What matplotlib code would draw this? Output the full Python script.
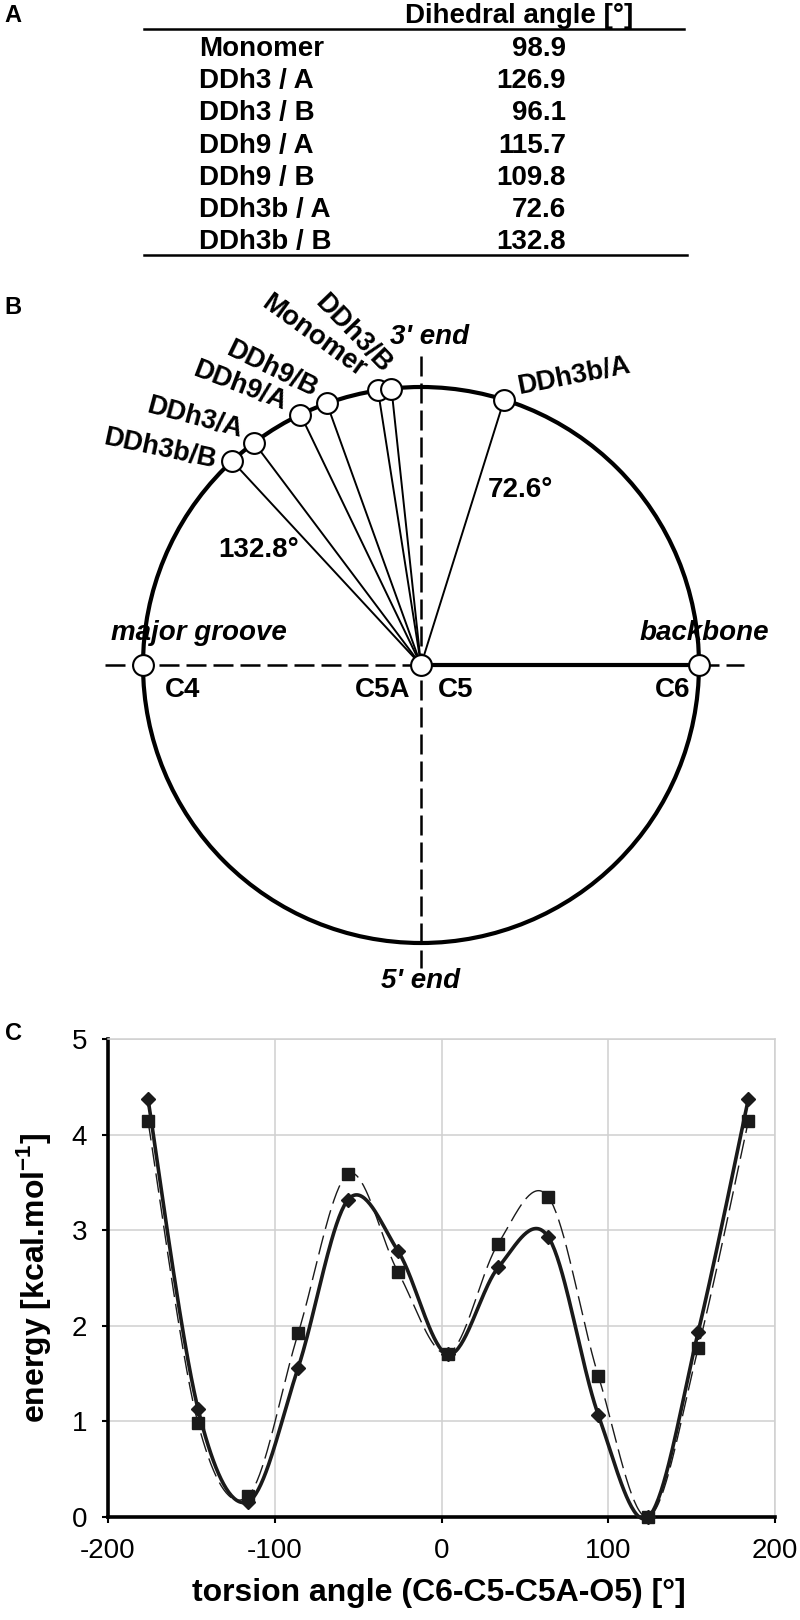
import numpy as np
import matplotlib
matplotlib.use('Agg')
import matplotlib.pyplot as plt
from matplotlib.patches import Circle
from matplotlib import font_manager

plt.rcParams['font.family'] = ['Liberation Sans', 'DejaVu Sans']
plt.rcParams['axes.unicode_minus'] = False
plt.rcParams['mathtext.fontset'] = 'custom'
plt.rcParams['mathtext.rm'] = 'Liberation Sans'
plt.rcParams['mathtext.bf'] = 'Liberation Sans:bold'

# narrow font for the chart tick labels if it is there
font_names = {f.name for f in font_manager.fontManager.ttflist}
if 'Liberation Sans Narrow' in font_names:
    tick_family, tick_size = 'Liberation Sans Narrow', 23
else:
    tick_family, tick_size = 'Liberation Sans', 20

# Panel A / B data
structures = ['Monomer', 'DDh3 / A', 'DDh3 / B', 'DDh9 / A', 'DDh9 / B', 'DDh3b / A', 'DDh3b / B']
dihedral = [98.9, 126.9, 96.1, 115.7, 109.8, 72.6, 132.8]
circle_labels = ['Monomer', 'DDh3/A', 'DDh3/B', 'DDh9/A', 'DDh9/B', 'DDh3b/A', 'DDh3b/B']

# Panel C data
torsion = [-176, -146, -116, -86, -56, -26, 4, 34, 64, 94, 124, 154, 184]
energy_diamond = [4.37, 1.13, 0.16, 1.56, 3.32, 2.78, 1.70, 2.61, 2.93, 1.07, 0.0, 1.94, 4.37]
energy_square = [4.14, 0.98, 0.22, 1.92, 3.59, 2.56, 1.71, 2.86, 3.35, 1.48, 0.0, 1.77, 4.14]

# label styling for the circle (rotation deg, offset in points, alignment)
label_rot = [-36, -15, -46, -21, -26, 11, -12]
label_off = [(-11, 13), (-9, 9), (-3, 14), (-11, 8), (-8, 9), (10, 9), (-12, 0)]
label_ha = ['right', 'right', 'right', 'right', 'right', 'left', 'right']

W, H = 800, 1620
fig = plt.figure(figsize=(W / 100, H / 100), dpi=100)
fig.patch.set_facecolor('white')

# ---------------- Panel A: table ----------------
axA = fig.add_axes([0, 1 - 270 / H, 1, 270 / H])
axA.set_xlim(0, W)
axA.set_ylim(270, 0)
axA.axis('off')
axA.text(13, 16, 'A', fontsize=17, fontweight='bold', ha='center', va='center')
axA.text(519, 16, 'Dihedral angle [°]', fontsize=20, fontweight='bold', ha='center', va='center')
axA.plot([144, 684], [29, 29], color='k', lw=1.8)
axA.plot([144, 687], [255, 255], color='k', lw=1.8)
for i, (name, val) in enumerate(zip(structures, dihedral)):
    y = 49 + 32.2 * i
    axA.text(199, y, name, fontsize=20, fontweight='bold', ha='left', va='center')
    axA.text(566, y, f'{val:.1f}', fontsize=20, fontweight='bold', ha='right', va='center')

# ---------------- Panel B: circle ----------------
CX, CY, R = 421, 665, 278  # pixel layout of the circle
xl, xr, yb, yt = -1.2, 1.3, -1.2, 1.3
axB = fig.add_axes([(CX + xl * R) / W, 1 - (CY - yb * R) / H,
                    (xr - xl) * R / W, (yt - yb) * R / H])
axB.set_xlim(xl, xr)
axB.set_ylim(yb, yt)
axB.axis('off')

fig.text(13 / W, 1 - 308 / H, 'B', fontsize=17, fontweight='bold', ha='center', va='center')

axB.plot([-1.137, 1.162], [0, 0], color='k', lw=1.8, ls=(0, (8, 2.8)), zorder=1)
axB.plot([0, 0], [-1.09, 1.133], color='k', lw=1.8, ls=(0.8, (8, 2.8)), zorder=1)
axB.add_patch(Circle((0, 0), 1, fill=False, lw=3, color='k', zorder=2))
axB.plot([0, 1], [0, 0], color='k', lw=3, zorder=2)

ang = np.deg2rad(dihedral)
px = np.cos(ang)
py = np.sin(ang)
for x, y in zip(px, py):
    axB.plot([0, x], [0, y], color='k', lw=1.4, zorder=3)

mk = dict(marker='o', ms=15, mfc='white', mec='k', mew=1.5, ls='none', zorder=5)
axB.plot(px, py, **mk)
axB.plot([-1, 0, 1], [0, 0, 0], **mk)

for lab, x, y, rot, off, ha in zip(circle_labels, px, py, label_rot, label_off, label_ha):
    axB.annotate(lab, xy=(x, y), xytext=off, textcoords='offset points',
                 rotation=rot, rotation_mode='anchor', ha=ha, va='center',
                 fontsize=19.5, fontweight='bold', zorder=6)

it = dict(fontsize=20, fontweight='bold', style='italic', va='center')
axB.text(0.032, 1.18, "3' end", ha='center', **it)
axB.text(0.0, -1.135, "5' end", ha='center', **it)
axB.text(-0.80, 0.115, 'major groove', ha='center', **it)
axB.text(1.018, 0.115, 'backbone', ha='center', **it)

bd = dict(fontsize=20, fontweight='bold', va='center')
axB.text(-0.921, -0.09, 'C4', ha='left', **bd)
axB.text(-0.04, -0.09, 'C5A', ha='right', **bd)
axB.text(0.061, -0.09, 'C5', ha='left', **bd)
axB.text(0.968, -0.09, 'C6', ha='right', **bd)
axB.text(-0.583, 0.414, f'{dihedral[6]}°', ha='center', **bd)
axB.text(0.356, 0.63, f'{dihedral[5]}°', ha='center', **bd)

# ---------------- Panel C: energy profile ----------------
def excel_smooth(xs, ys, n=40):
    # Bezier smoothing through the points, the way spreadsheet "smoothed lines" look
    P = np.column_stack([xs, ys]).astype(float)
    pts = []
    for i in range(len(P) - 1):
        p0 = P[i - 1] if i > 0 else P[i]
        p1, p2 = P[i], P[i + 1]
        p3 = P[i + 2] if i + 2 < len(P) else P[i + 1]
        c1 = p1 + (p2 - p0) / 6
        c2 = p2 - (p3 - p1) / 6
        t = np.linspace(0, 1, n)[:, None]
        seg = (1 - t) ** 3 * p1 + 3 * (1 - t) ** 2 * t * c1 + 3 * (1 - t) * t ** 2 * c2 + t ** 3 * p2
        pts.append(seg if i == 0 else seg[1:])
    return np.vstack(pts)

axC = fig.add_axes([108 / W, 1 - 1517 / H, 667 / W, 478 / H])
fig.text(13 / W, 1 - 1033 / H, 'C', fontsize=17, fontweight='bold', ha='center', va='center')

ink = '#1a1a1a'
sq = excel_smooth(torsion, energy_square)
di = excel_smooth(torsion, energy_diamond)
axC.plot(sq[:, 0], sq[:, 1], color=ink, lw=1.0, ls=(0, (14, 5)), zorder=3, clip_on=False)
axC.plot(di[:, 0], di[:, 1], color=ink, lw=2.6, zorder=4, clip_on=False)
axC.plot(torsion, energy_square, 's', ms=8, color=ink, zorder=5, clip_on=False)
axC.plot(torsion, energy_diamond, 'D', ms=7.2, color=ink, zorder=6, clip_on=False)

axC.set_xlim(-200, 200)
axC.set_ylim(0, 5)
axC.set_xticks([-200, -100, 0, 100, 200])
axC.set_yticks([0, 1, 2, 3, 4, 5])
axC.grid(True, color='#d0d0d0', lw=1.1)
axC.set_axisbelow(True)
for s in ['top', 'right']:
    axC.spines[s].set_color('#d0d0d0')
    axC.spines[s].set_linewidth(1.1)
for s in ['left', 'bottom']:
    axC.spines[s].set_color('k')
    axC.spines[s].set_linewidth(2.6)
axC.tick_params(labelsize=tick_size, length=4, width=1.5, pad=11, direction='out')
for lab in axC.get_xticklabels() + axC.get_yticklabels():
    lab.set_family(tick_family)

axC.set_ylabel(r'energy [kcal.mol$^{\mathbf{-1}}$]', fontsize=23, fontweight='bold', va='center')
axC.yaxis.set_label_coords(-0.112, 0.5)
axC.set_xlabel('torsion angle (C6-C5-C5A-O5) [°]', fontsize=23, fontweight='bold', va='center')
axC.xaxis.set_label_coords(0.496, -0.159)

fig.savefig('out.png', dpi=100, facecolor='white')
